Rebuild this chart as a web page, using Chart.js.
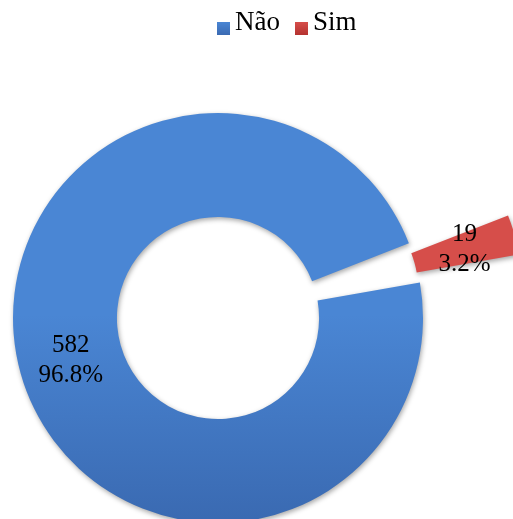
<!DOCTYPE html>
<html>
<head>
<meta charset="utf-8">
<script src="https://cdn.jsdelivr.net/npm/chart.js@4/dist/chart.umd.min.js"></script>
<style>
    body { margin: 0; background: #fff; }
    #wrap { position: relative; width: 513px; height: 519px; overflow: hidden; }
    #legend {
        position: absolute; left: 217px; top: 6px;
        display: flex; font: 27px "Liberation Serif", "Times New Roman", serif;
        line-height: 30px; color: #000;
    }
    .item { display: flex; align-items: flex-start; margin-right: 15px; }
    .box { width: 13px; height: 13px; margin-top: 16px; margin-right: 5px; }
</style>
</head>
<body>
<div id="wrap">
    <canvas id="donutChart"></canvas>
    <div id="legend"></div>
</div>
<script>
const labels = ['Não', 'Sim'];
const values = [582, 19];

// cores das fatias (topo, base) e quanto cada fatia fica destacada
const topColors = ['rgb(74,134,212)', 'rgb(214,78,74)'];
const bottomColors = ['rgb(58,106,178)', 'rgb(180,50,48)'];
const explode = [0, 103];

// legenda em HTML (o centro dela não coincide com o do anel)
const legendEl = document.getElementById('legend');
labels.forEach((name, i) => {
    const item = document.createElement('div');
    item.className = 'item';
    const box = document.createElement('div');
    box.className = 'box';
    box.style.background = `linear-gradient(${topColors[i]}, ${bottomColors[i]})`;
    const txt = document.createElement('span');
    txt.textContent = name;
    item.appendChild(box);
    item.appendChild(txt);
    legendEl.appendChild(item);
});

// desloca a fatia para fora sem mudar o raio (como no Excel)
const explodePlugin = {
    id: 'explode',
    afterDatasetsUpdate(chart) {
        const meta = chart.getDatasetMeta(0);
        meta.data.forEach((arc, i) => {
            const d = explode[i] || 0;
            if (!d) return;
            const mid = (arc.startAngle + arc.endAngle) / 2;
            arc.x += Math.cos(mid) * d;
            arc.y += Math.sin(mid) * d;
        });
    }
};

const shadowPlugin = {
    id: 'shadow',
    beforeDatasetDraw(chart) {
        const ctx = chart.ctx;
        ctx.save();
        ctx.shadowColor = 'rgba(0,0,0,0.35)';
        ctx.shadowBlur = 5;
        ctx.shadowOffsetX = 1;
        ctx.shadowOffsetY = 2;
    },
    afterDatasetDraw(chart) {
        chart.ctx.restore();
    }
};

const labelPlugin = {
    id: 'sliceLabels',
    afterDatasetsDraw(chart) {
        const ctx = chart.ctx;
        const meta = chart.getDatasetMeta(0);
        const total = values.reduce((a, b) => a + b, 0);
        ctx.save();
        ctx.font = '25px "Liberation Serif", "Times New Roman", serif';
        ctx.fillStyle = '#000';
        ctx.textAlign = 'center';
        ctx.textBaseline = 'middle';
        meta.data.forEach((arc, i) => {
            const mid = (arc.startAngle + arc.endAngle) / 2;
            const r = (arc.innerRadius + arc.outerRadius) / 2;
            const x = arc.x + Math.cos(mid) * r;
            const y = arc.y + Math.sin(mid) * r;
            const pct = (values[i] / total * 100).toFixed(1) + '%';
            ctx.fillText(String(values[i]), x, y - 14);
            ctx.fillText(pct, x, y + 16);
        });
        ctx.restore();
    }
};

function sliceColor(context) {
    const chart = context.chart;
    const area = chart.chartArea;
    const i = context.dataIndex;
    if (!area) return topColors[i];
    const g = chart.ctx.createLinearGradient(0, 110, 0, 519);
    g.addColorStop(0, topColors[i]);
    g.addColorStop(0.5, topColors[i]);
    g.addColorStop(1, bottomColors[i]);
    return g;
}

new Chart(document.getElementById('donutChart').getContext('2d'), {
    type: 'doughnut',
    data: {
        labels: labels,
        datasets: [{
            data: values,
            backgroundColor: sliceColor,
            borderWidth: 0
        }]
    },
    options: {
        responsive: true,
        maintainAspectRatio: false,
        animation: false,
        events: [],
        rotation: 80,
        radius: 205,
        cutout: '49.3%',
        layout: { padding: { left: 0, right: 77, top: 117, bottom: 0 } },
        plugins: {
            legend: { display: false },
            tooltip: { enabled: false }
        }
    },
    plugins: [explodePlugin, shadowPlugin, labelPlugin]
});
</script>
</body>
</html>
